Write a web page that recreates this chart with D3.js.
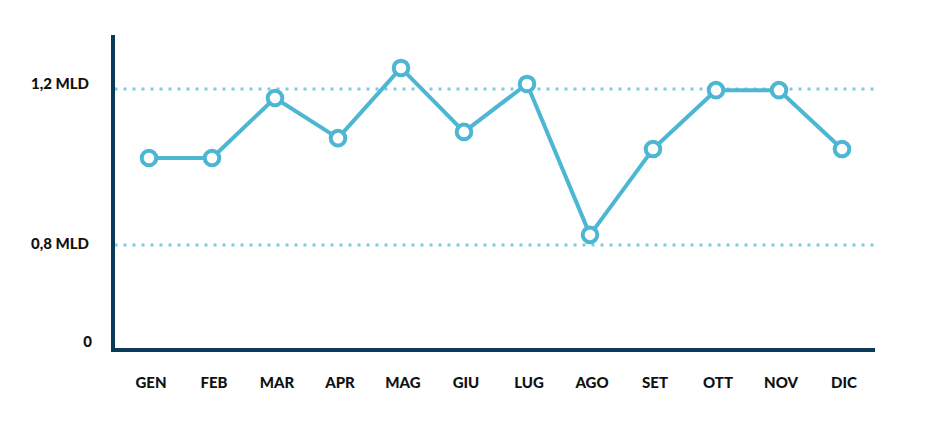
<!DOCTYPE html>
<html><head><meta charset="utf-8">
<script src="https://cdn.jsdelivr.net/npm/d3@7"></script>
<style>body{margin:0;background:#fff}text{font-family:Lato,"Open Sans",sans-serif;font-weight:900;fill:#111}</style>
</head><body><svg id="c" width="951" height="423"></svg>
<script>
const months = ["GEN","FEB","MAR","APR","MAG","GIU","LUG","AGO","SET","OTT","NOV","DIC"];
const values = [1.023,1.023,1.177,1.074,1.254,1.090,1.213,0.826,1.046,1.197,1.197,1.046];
const gridValues = [0.8,1.2];
const gridLabels = ["0,8 MLD","1,2 MLD"];
const zeroLabel = "0";

const svg = d3.select("#c");
const x = d3.scalePoint().domain(months).range([149,842]);
const y = d3.scaleLinear().domain([0.8,1.2]).range([245,89]);
const yBottom = 350;

// gridlines
svg.selectAll("line.grid").data(gridValues).join("line")
  .attr("x1",116).attr("x2",877)
  .attr("y1",d=>y(d)).attr("y2",d=>y(d))
  .attr("stroke","#7ecbe0").attr("stroke-width",3)
  .attr("stroke-dasharray","0,9").attr("stroke-linecap","square");

// axes
svg.append("line").attr("x1",113).attr("x2",113).attr("y1",35).attr("y2",yBottom+2)
  .attr("stroke","#0b3a58").attr("stroke-width",4);
svg.append("line").attr("x1",111).attr("x2",875).attr("y1",yBottom).attr("y2",yBottom)
  .attr("stroke","#0b3a58").attr("stroke-width",4);

// y labels
const labelY = [244,84];
svg.selectAll("text.yl").data(gridLabels).join("text")
  .attr("x",89).attr("y",(d,i)=>labelY[i]).attr("dy","0.35em")
  .attr("text-anchor","end").attr("font-size",15).text(d=>d);
svg.append("text").attr("x",92).attr("y",342).attr("dy","0.35em")
  .attr("text-anchor","end").attr("font-size",15).text(zeroLabel);

// x labels
svg.selectAll("text.xl").data(months).join("text")
  .attr("x",d=>x(d)+2).attr("y",383).attr("dy","0.35em")
  .attr("text-anchor","middle").attr("font-size",15).text(d=>d);

// line
const line = d3.line().x((d,i)=>x(months[i])).y(d=>y(d));
svg.append("path").datum(values).attr("d",line)
  .attr("fill","none").attr("stroke","#4db6d3").attr("stroke-width",4).attr("stroke-linejoin","round");

svg.selectAll("circle").data(values).join("circle")
  .attr("cx",(d,i)=>x(months[i])).attr("cy",d=>y(d)).attr("r",7.3)
  .attr("fill","#fff").attr("stroke","#4db6d3").attr("stroke-width",4);
</script></body></html>
